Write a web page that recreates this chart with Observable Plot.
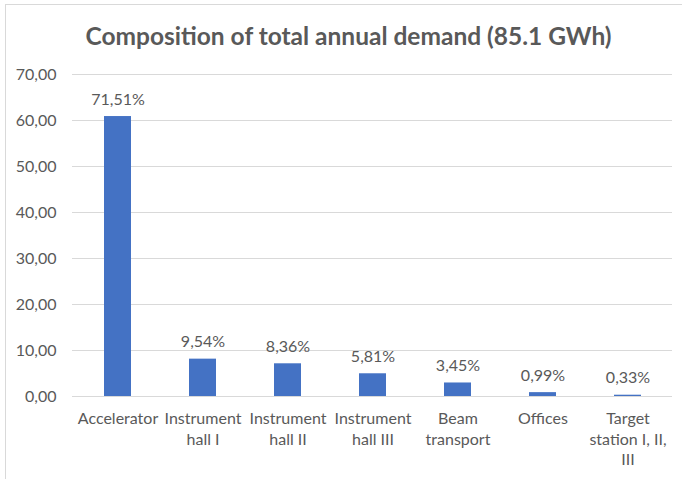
<!DOCTYPE html>
<html>
<head>
<meta charset="utf-8">
<script src="https://cdn.jsdelivr.net/npm/d3@7"></script>
<script src="https://cdn.jsdelivr.net/npm/@observablehq/plot@0.6"></script>
<style>
  html, body { margin: 0; padding: 0; background: #fff; }
  body { width: 682px; height: 479px; position: relative; overflow: hidden; font-family: Lato, sans-serif; }
  #frame { position: absolute; left: 5px; top: 4px; width: 720px; height: 520px; border-top: 1px solid #d9d9d9; border-left: 1px solid #d9d9d9; }
  #title { position: absolute; left: 0; top: 21px; width: 697px; text-align: center; font-size: 24.5px; font-weight: 700; color: #595959; font-family: Lato, sans-serif; }
  #chart { position: absolute; left: 0; top: 60px; }
</style>
</head>
<body>
<div id="frame"></div>
<div id="title">Composition of total annual demand (85.1 GWh)</div>
<div id="chart"></div>
<script>
const categories = ["Accelerator", "Instrument hall I", "Instrument hall II", "Instrument hall III", "Beam transport", "Offices", "Target station I, II, III"];
const tickLabels = ["Accelerator", "Instrument\nhall I", "Instrument\nhall II", "Instrument\nhall III", "Beam\ntransport", "Offices", "Target\nstation I, II,\nIII"];
const values = [60.86, 8.12, 7.11, 4.94, 2.94, 0.84, 0.28];
const percentLabels = ["71,51%", "9,54%", "8,36%", "5,81%", "3,45%", "0,99%", "0,33%"];
const yTicks = [0, 10, 20, 30, 40, 50, 60, 70];

const data = categories.map((c, i) => ({category: c, value: values[i], label: percentLabels[i]}));
const tickMap = new Map(categories.map((c, i) => [c, tickLabels[i]]));

const plot = Plot.plot({
  width: 682,
  height: 419,
  marginTop: 14,
  marginBottom: 83,
  marginLeft: 72,
  marginRight: 10,
  style: { fontFamily: "Lato, sans-serif", fontSize: "16px", color: "#595959", background: "transparent" },
  x: { domain: categories, paddingInner: 0.685, paddingOuter: 0.3425, align: 0.5 },
  y: { domain: [0, 70] },
  marks: [
    Plot.gridY(yTicks, { stroke: "#d9d9d9", strokeOpacity: 1, strokeWidth: 1 }),
    Plot.axisY(yTicks, { tickSize: 0, tickPadding: 16, tickFormat: d => d.toFixed(2).replace(".", ","), fill: "#595959", fontSize: 16, label: null }),
    Plot.axisX({ tickSize: 0, tickPadding: 13, tickFormat: d => tickMap.get(d), fill: "#595959", fontSize: 16, lineHeight: 1.28, label: null }),
    Plot.barY(data, { x: "category", y: "value", fill: "#4472C4" }),
    Plot.text(data, { x: "category", y: "value", text: "label", dy: -17, fill: "#595959", fontSize: 16, lineAnchor: "middle" })
  ]
});
document.getElementById("chart").appendChild(plot);
</script>
</body>
</html>
